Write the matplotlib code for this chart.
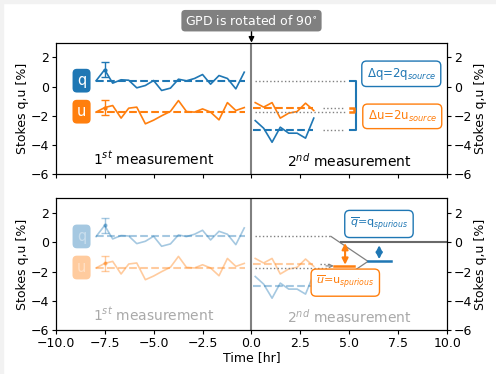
import matplotlib
matplotlib.use("Agg")
import matplotlib.pyplot as plt
from matplotlib.patches import Rectangle

# --- data -------------------------------------------------------------
t_first = [-7.94, -7.50, -7.09, -6.66, -6.27, -5.86, -5.42, -5.00, -4.59, -4.14,
           -3.73, -3.32, -2.91, -2.50, -2.09, -1.66, -1.23, -0.80, -0.37]
q_first = [0.39, 1.15, 0.23, 0.46, 0.43, -0.09, 0.07, 0.41, -0.27, -0.11,
           0.50, 0.39, 0.55, 0.82, 0.16, 0.75, 0.55, -0.16, 0.98]
u_first = [-1.75, -1.44, -1.30, -2.16, -1.48, -1.41, -2.55, -2.30, -2.00, -1.70,
           -0.96, -1.71, -1.75, -1.53, -1.75, -2.28, -1.10, -1.64, -1.44]

t_second = [0.19, 0.62, 1.05, 1.47, 1.90, 2.33, 2.76, 3.18]
q_second = [-2.33, -2.85, -3.81, -2.78, -3.19, -3.19, -3.53, -2.16]
u_second = [-1.10, -1.41, -1.10, -2.16, -1.82, -1.71, -1.14, -1.64]

q_first_mean, u_first_mean = 0.40, -1.72
q_second_mean, u_second_mean = -3.00, -1.50
q_bar = (q_first_mean + q_second_mean) / 2
u_bar = (u_first_mean + u_second_mean) / 2

err_time = -7.5
q_err_val, u_err_val = 1.15, -1.44
q_err, u_err = 0.5, 0.5

yticks = [-6, -4, -2, 0, 2]
xticks = [-10.0, -7.5, -5.0, -2.5, 0.0, 2.5, 5.0, 7.5, 10.0]

BLUE = "#1f77b4"
ORANGE = "#ff7f0e"
FS = 9

fig = plt.figure(figsize=(4.96, 3.74), dpi=100)
fig.patches.append(Rectangle((0, 0.992), 1, 0.008, transform=fig.transFigure,
                             color="#f2f2f2", zorder=-10))
fig.patches.append(Rectangle((0, 0), 0.006, 1, transform=fig.transFigure,
                             color="#f2f2f2", zorder=-10))

left, width = 0.1123, 0.7895
ax1 = fig.add_axes([left, 0.534, width, 0.352])
ax2 = fig.add_axes([left, 0.1168, width, 0.353])


def draw_series(ax, alpha):
    ax.plot(t_first, q_first, color=BLUE, lw=1.2, alpha=alpha)
    ax.plot(t_first, u_first, color=ORANGE, lw=1.2, alpha=alpha)
    ax.errorbar([err_time], [q_err_val], yerr=[q_err], color=BLUE, capsize=3,
                lw=1.0, marker=".", ms=4, alpha=alpha)
    ax.errorbar([err_time], [u_err_val], yerr=[u_err], color=ORANGE, capsize=3,
                lw=1.0, marker=".", ms=4, alpha=alpha)
    ax.plot(t_second, q_second, color=BLUE, lw=1.2, alpha=alpha)
    ax.plot(t_second, u_second, color=ORANGE, lw=1.2, alpha=alpha)
    # mean levels
    ax.plot([t_first[0], t_first[-1] + 0.05], [q_first_mean] * 2, "--", color=BLUE, lw=1.5, alpha=alpha)
    ax.plot([t_first[0], t_first[-1] + 0.05], [u_first_mean] * 2, "--", color=ORANGE, lw=1.5, alpha=alpha)
    ax.plot([t_second[0] - 0.1, t_second[-1] - 0.05], [q_second_mean] * 2, "--", color=BLUE, lw=1.5, alpha=alpha)
    ax.plot([t_second[0] - 0.1, t_second[-1] - 0.05], [u_second_mean] * 2, "--", color=ORANGE, lw=1.5, alpha=alpha)
    # q / u tags
    ax.text(-8.68, q_first_mean, "q", color="white", fontsize=10.5, ha="center", va="center",
            alpha=alpha,
            bbox=dict(boxstyle="round,pad=0.3", fc=BLUE, ec="none", alpha=alpha))
    ax.text(-8.68, u_first_mean, "u", color="white", fontsize=10.5, ha="center", va="center",
            alpha=alpha,
            bbox=dict(boxstyle="round,pad=0.3", fc=ORANGE, ec="none", alpha=alpha))
    ax.axvline(0, color="gray", lw=1.5)


def style_axes(ax):
    ax.set_xlim(-10, 10)
    ax.set_ylim(-6, 3)
    ax.set_yticks(yticks)
    ax.set_xticks(xticks)
    ax.set_ylabel("Stokes q,u [%]", fontsize=FS, labelpad=1)
    ax.tick_params(labelsize=FS, length=2.8, pad=2)
    tw = ax.twinx()
    tw.set_ylim(-6, 3)
    tw.set_yticks(yticks)
    tw.set_ylabel("Stokes q,u [%]", fontsize=FS, labelpad=1)
    tw.tick_params(labelsize=FS, length=2.8, pad=2)
    return tw


# --- top panel ---------------------------------------------------------
draw_series(ax1, 1.0)
style_axes(ax1)
ax1.tick_params(labelbottom=False)
ax1.text(-5.0, -4.95, "1$^{st}$ measurement", fontsize=10, ha="center", va="center")
ax1.text(5.0, -5.05, "2$^{nd}$ measurement", fontsize=10, ha="center", va="center")

x_end = 4.76
ax1.plot([0.19, x_end], [q_first_mean] * 2, ":", color="gray", lw=1.0)
ax1.plot([0.19, x_end], [u_first_mean] * 2, ":", color="gray", lw=1.0)
ax1.plot([3.67, x_end], [u_second_mean] * 2, ":", color="gray", lw=1.0)
ax1.plot([3.67, x_end], [q_second_mean] * 2, ":", color="gray", lw=1.0)
# brackets showing the differences
ax1.plot([5.03, 5.33, 5.33, 5.03], [q_first_mean, q_first_mean, q_second_mean, q_second_mean],
         color=BLUE, lw=1.5)
ax1.plot([5.05, 5.22, 5.22, 5.05], [u_first_mean, u_first_mean, u_second_mean, u_second_mean],
         color=ORANGE, lw=1.8)
ax1.text(7.65, 0.87, r"$\Delta$q=2q$_{source}$", color=BLUE, fontsize=8.5,
         ha="center", va="center",
         bbox=dict(boxstyle="round,pad=0.4", fc="white", ec=BLUE, lw=1.0))
ax1.text(7.7, -2.04, r"$\Delta$u=2u$_{source}$", color=ORANGE, fontsize=8.5,
         ha="center", va="center",
         bbox=dict(boxstyle="round,pad=0.4", fc="white", ec=ORANGE, lw=1.0))
ax1.annotate("GPD is rotated of 90$^{\\circ}$", xy=(0, 3), xytext=(0, 4.5),
             textcoords="data", annotation_clip=False, color="white", fontsize=FS,
             ha="center", va="center",
             bbox=dict(boxstyle="round,pad=0.3", fc="gray", ec="none"),
             arrowprops=dict(arrowstyle="-|>", color="black", lw=1.0,
                             shrinkA=0, shrinkB=0, mutation_scale=8))

# --- bottom panel ------------------------------------------------------
draw_series(ax2, 0.4)
style_axes(ax2)
ax2.set_xlabel("Time [hr]", fontsize=FS, labelpad=1)
ax2.text(-5.0, -4.95, "1$^{st}$ measurement", fontsize=10, ha="center", va="center",
         color="darkgray")
ax2.text(5.0, -5.05, "2$^{nd}$ measurement", fontsize=10, ha="center", va="center",
         color="darkgray")

x_join = 4.06
ax2.plot([0.19, x_join], [q_first_mean] * 2, ":", color="gray", lw=1.0)
ax2.plot([0.19, 3.9], [u_first_mean] * 2, ":", color="gray", lw=1.0)
ax2.plot([3.5, x_join], [u_second_mean] * 2, ":", color="gray", lw=1.0)
ax2.plot([3.67, x_join], [q_second_mean] * 2, ":", color="gray", lw=1.0)
ax2.annotate("", xy=(4.2, u_bar), xytext=(3.8, u_bar),
             arrowprops=dict(arrowstyle="->", color="gray", lw=0.8,
                             shrinkA=0, shrinkB=0, mutation_scale=6))
ax2.plot([x_join, 5.95], [q_first_mean, q_bar], color="gray", lw=0.9)
ax2.plot([x_join, 5.95], [q_second_mean, q_bar], color="gray", lw=0.9)
ax2.plot([4.2, 5.22], [u_bar] * 2, color=ORANGE, lw=1.8)
ax2.plot([5.95, 7.1], [q_bar] * 2, color=BLUE, lw=1.8)
ax2.plot([4.56, 10], [0, 0], color="dimgray", lw=1.5)
ax2.annotate("", xy=(4.78, -0.05), xytext=(4.78, u_bar + 0.08),
             arrowprops=dict(arrowstyle="<|-|>", color=ORANGE, lw=1.5,
                             shrinkA=0, shrinkB=0, mutation_scale=9))
ax2.annotate("", xy=(6.52, -0.2), xytext=(6.52, q_bar + 0.15),
             arrowprops=dict(arrowstyle="<|-|>", color=BLUE, lw=1.5,
                             shrinkA=0, shrinkB=0, mutation_scale=9))
ax2.text(6.51, 1.25, r"$\overline{q}$=q$_{spurious}$", color=BLUE, fontsize=8,
         ha="center", va="center", zorder=5,
         bbox=dict(boxstyle="round,pad=0.45", fc="white", ec=BLUE, lw=1.0))
ax2.text(4.79, -2.75, r"$\overline{u}$=u$_{spurious}$", color=ORANGE, fontsize=8,
         ha="center", va="center", zorder=5,
         bbox=dict(boxstyle="round,pad=0.45", fc="white", ec=ORANGE, lw=1.0))

fig.savefig("out.png", dpi=100)
